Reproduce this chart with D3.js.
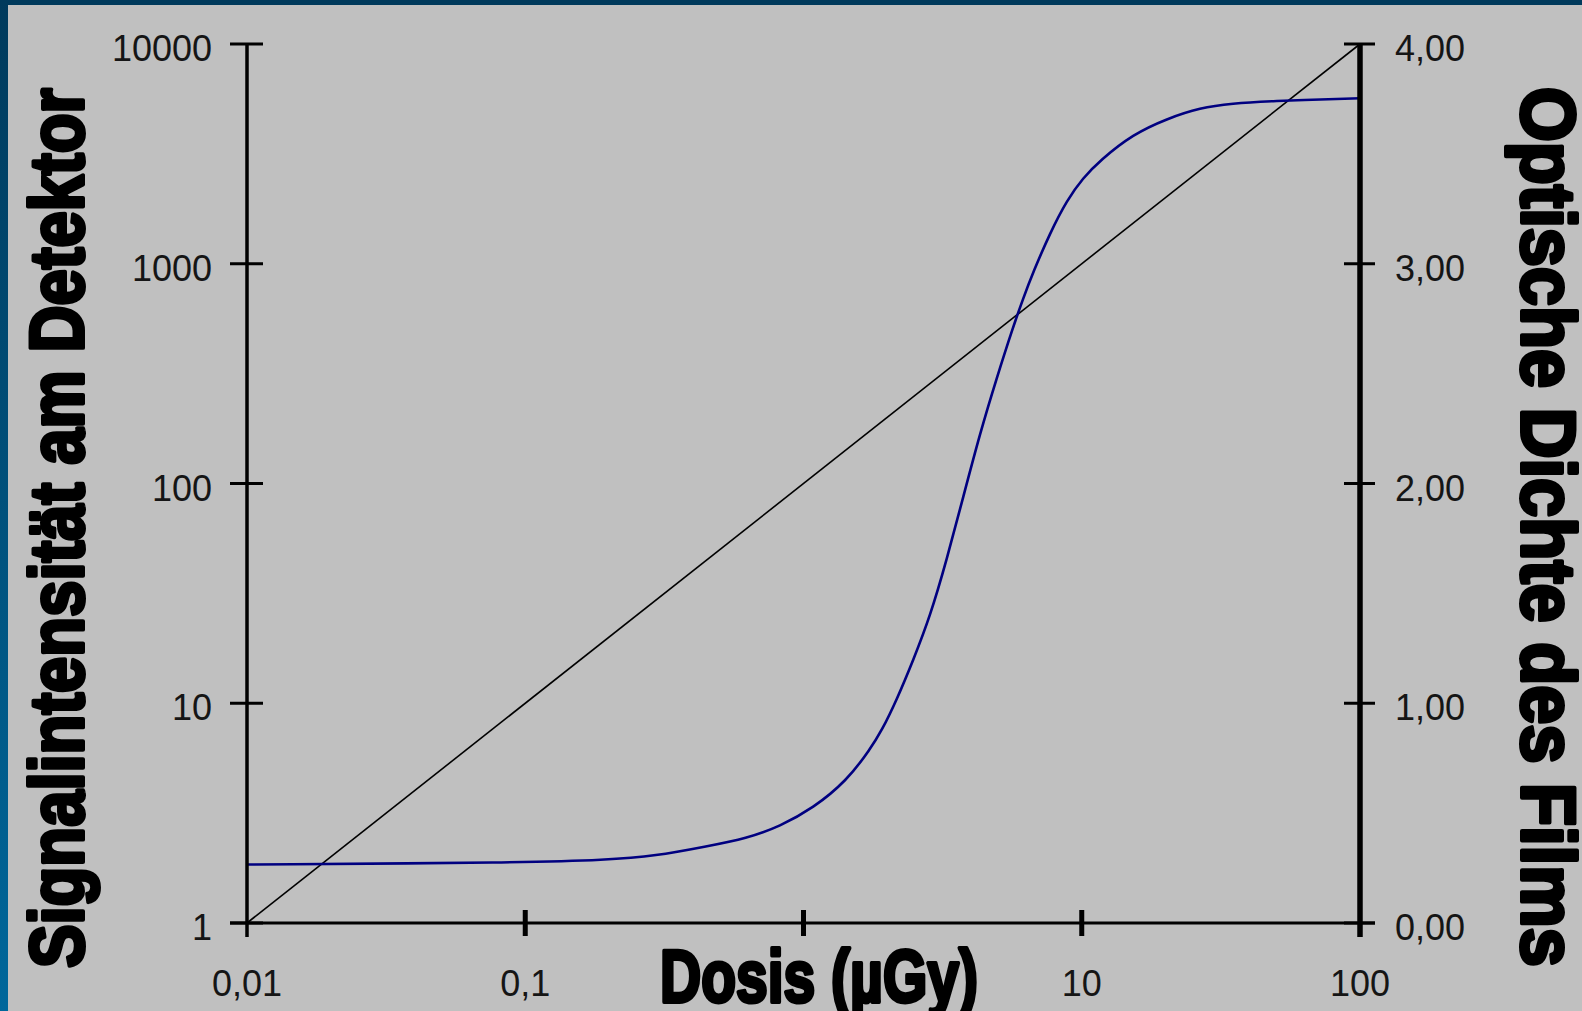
<!DOCTYPE html>
<html>
<head>
<meta charset="utf-8">
<script src="https://cdn.jsdelivr.net/npm/d3@7"></script>
<style>
  html, body { margin: 0; padding: 0; background: #c0c0c0; overflow: hidden; }
  svg { display: block; }
</style>
</head>
<body>
<svg id="chart" width="1582" height="1011"></svg>
<script>
// ---- data ----
const lineDose = [0.01, 100];
const lineSignal = [1, 10000];

const odDose = [0.01, 0.1, 0.194, 0.295, 0.446, 0.626, 0.823, 1.082, 1.433, 1.734, 1.91, 2.162, 2.481, 2.849, 3.27, 3.753, 4.309, 4.947, 5.675, 6.15, 6.68, 7.69, 8.85, 10.1, 11.63, 15.29, 20.25, 26.6, 34.97, 46.3, 100];
const odValue = [0.266, 0.275, 0.287, 0.305, 0.348, 0.385, 0.44, 0.522, 0.648, 0.79, 0.875, 1.015, 1.197, 1.394, 1.652, 1.94, 2.228, 2.48, 2.715, 2.84, 2.96, 3.14, 3.29, 3.39, 3.47, 3.59, 3.66, 3.71, 3.73, 3.74, 3.753];

const xTicks = [0.01, 0.1, 1, 10, 100];
const xTickLabels = ["0,01", "0,1", "", "10", "100"];
const yLeftTicks = [1, 10, 100, 1000, 10000];
const yLeftLabels = ["1", "10", "100", "1000", "10000"];
const yRightTicks = [0, 1, 2, 3, 4];
const yRightLabels = ["0,00", "1,00", "2,00", "3,00", "4,00"];

const xTitle = "Dosis (µGy)";
const yLeftTitle = "Signalintensität am Detektor";
const yRightTitle = "Optische Dichte des Films";

// ---- layout ----
const svg = d3.select("#chart");
const L = 247, R = 1360, T = 44, B = 923;

const x = d3.scaleLog().domain([0.01, 100]).range([L, R]);
const yL = d3.scaleLog().domain([1, 10000]).range([B, T]);
const yR = d3.scaleLinear().domain([0, 4]).range([B, T]);

// background & borders
const defs = svg.append("defs");
const grad = defs.append("linearGradient").attr("id", "lg").attr("x1", 0).attr("y1", 0).attr("x2", 0).attr("y2", 1);
grad.append("stop").attr("offset", "0%").attr("stop-color", "#003a5c");
grad.append("stop").attr("offset", "100%").attr("stop-color", "#00679b");

svg.append("rect").attr("x", 0).attr("y", 0).attr("width", 1582).attr("height", 1011).attr("fill", "#c0c0c0");
svg.append("rect").attr("x", 0).attr("y", 0).attr("width", 1582).attr("height", 5).attr("fill", "#003a5c");
svg.append("rect").attr("x", 0).attr("y", 0).attr("width", 8).attr("height", 1011).attr("fill", "url(#lg)");

// ---- series ----
const lineGen = d3.line().x(d => x(d[0])).y(d => yL(d[1]));
svg.append("path")
  .datum(lineDose.map((d, i) => [d, lineSignal[i]]))
  .attr("d", lineGen)
  .attr("fill", "none")
  .attr("stroke", "#000")
  .attr("stroke-width", 1.6);

const odGen = d3.line().x(d => x(d[0])).y(d => yR(d[1])).curve(d3.curveBasis);
svg.append("path")
  .datum(odDose.map((d, i) => [d, odValue[i]]))
  .attr("d", odGen)
  .attr("fill", "none")
  .attr("stroke", "#000080")
  .attr("stroke-width", 2.6);

// ---- axes ----
const ax = svg.append("g").attr("stroke", "#000");
ax.append("line").attr("x1", L).attr("x2", L).attr("y1", T).attr("y2", B + 14).attr("stroke-width", 3.5);
ax.append("line").attr("x1", R).attr("x2", R).attr("y1", T).attr("y2", B + 14).attr("stroke-width", 5.5);
ax.append("line").attr("x1", L - 17).attr("x2", R + 15).attr("y1", B).attr("y2", B).attr("stroke-width", 3);

ax.selectAll(".lt").data(yLeftTicks).enter().append("line")
  .attr("x1", L - 17).attr("x2", L + 16)
  .attr("y1", d => yL(d)).attr("y2", d => yL(d)).attr("stroke-width", 3);
ax.selectAll(".rt").data(yRightTicks).enter().append("line")
  .attr("x1", R - 16).attr("x2", R + 15)
  .attr("y1", d => yR(d)).attr("y2", d => yR(d)).attr("stroke-width", 3);
ax.selectAll(".bt").data(xTicks.filter(d => d !== 0.01 && d !== 100)).enter().append("line")
  .attr("x1", d => x(d)).attr("x2", d => x(d))
  .attr("y1", B - 13).attr("y2", B + 13).attr("stroke-width", 5);

// tick labels
const tf = "'Liberation Sans', Arial, sans-serif";
svg.selectAll(".ll").data(yLeftTicks).enter().append("text")
  .attr("x", 212).attr("y", d => yL(d) + 17)
  .attr("text-anchor", "end").attr("font-family", tf).attr("font-size", 36).attr("fill", "#151515")
  .text((d, i) => yLeftLabels[i]);
svg.selectAll(".rl").data(yRightTicks).enter().append("text")
  .attr("x", 1395).attr("y", d => yR(d) + 17)
  .attr("text-anchor", "start").attr("font-family", tf).attr("font-size", 36).attr("fill", "#151515")
  .text((d, i) => yRightLabels[i]);
svg.selectAll(".bl").data(xTicks.filter(d => d !== 1)).enter().append("text")
  .attr("x", d => x(d)).attr("y", 996)
  .attr("text-anchor", "middle").attr("font-family", tf).attr("font-size", 36).attr("fill", "#151515")
  .text(d => xTickLabels[xTicks.indexOf(d)]);

// titles (condensed by horizontal scaling to the measured widths)
const titleFont = "'Liberation Sans', Arial, sans-serif";
function title(txt, size, tx, ty, rot, targetLen) {
  const g = svg.append("g");
  const t = g.append("text")
    .attr("font-family", titleFont).attr("font-weight", "bold").attr("font-size", size)
    .attr("fill", "#000").attr("stroke", "#000").attr("stroke-width", 4).attr("stroke-linejoin", "round")
    .text(txt);
  const w = t.node().getComputedTextLength();
  const s = targetLen / w;
  g.attr("transform", `translate(${tx},${ty}) rotate(${rot}) scale(${s},1)`);
}
title(xTitle, 74, 660, 1002, 0, 318);
title(yLeftTitle, 76, 83, 968, -90, 880);
title(yRightTitle, 76, 1522, 87, 90, 880);
</script>
</body>
</html>
